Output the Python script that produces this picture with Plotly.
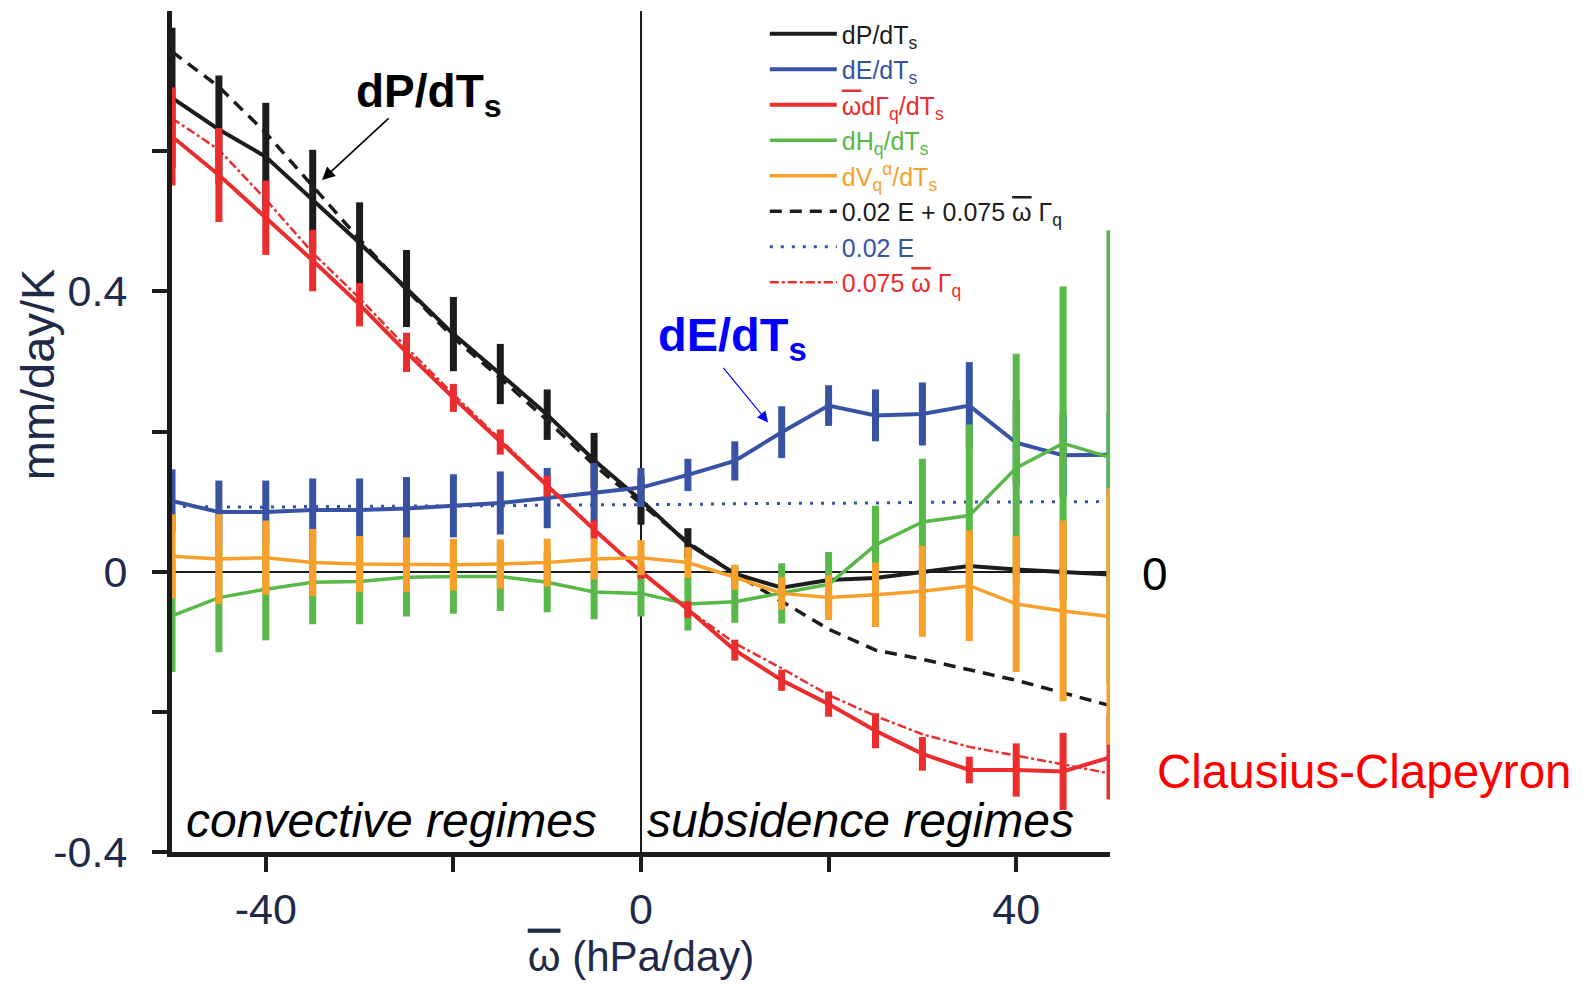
import plotly.graph_objects as go

# omega bins (hPa/day)
omega = [-50, -45, -40, -35, -30, -25, -20, -15, -10, -5, 0,
         5, 10, 15, 20, 25, 30, 35, 40, 45, 50]

# sensitivities (mm/day/K) and their error bars
dP = [0.676, 0.631, 0.592, 0.530, 0.469, 0.404, 0.339, 0.282, 0.224, 0.159, 0.102,
      0.040, -0.003, -0.023, -0.012, -0.009, -0.001, 0.008, 0.003, 0.0, -0.004]
dP_err = [0.10, 0.077, 0.077, 0.072, 0.058, 0.055, 0.053, 0.043, 0.036, 0.039, 0.035,
          0.022, 0.01, 0.006, 0.006, 0.006, 0.006, 0.006, 0.006, 0.006, 0.006]

dE = [0.101, 0.085, 0.085, 0.088, 0.088, 0.090, 0.094, 0.098, 0.105, 0.113, 0.120,
      0.138, 0.158, 0.199, 0.237, 0.223, 0.225, 0.237, 0.184, 0.166, 0.167]
dE_err = [0.045, 0.045, 0.045, 0.045, 0.045, 0.045, 0.045, 0.045, 0.043, 0.042, 0.028,
          0.023, 0.028, 0.037, 0.029, 0.037, 0.045, 0.062, 0.06, 0.06, 0.06]

dGam = [0.621, 0.566, 0.505, 0.444, 0.381, 0.313, 0.248, 0.185, 0.122, 0.060, 0.0,
        -0.054, -0.112, -0.155, -0.189, -0.227, -0.260, -0.283, -0.283, -0.285, -0.265]
dGam_err = [0.07, 0.067, 0.053, 0.044, 0.031, 0.028, 0.02, 0.018, 0.015, 0.013, 0.01,
            0.012, 0.015, 0.015, 0.018, 0.025, 0.024, 0.019, 0.038, 0.055, 0.06]

dH = [-0.063, -0.037, -0.025, -0.015, -0.014, -0.008, -0.007, -0.007, -0.015, -0.029, -0.031,
      -0.046, -0.043, -0.031, -0.018, 0.038, 0.071, 0.080, 0.148, 0.183, 0.163]
dH_err = [0.08, 0.078, 0.073, 0.06, 0.061, 0.056, 0.053, 0.049, 0.043, 0.039, 0.033,
          0.038, 0.03, 0.043, 0.046, 0.056, 0.09, 0.13, 0.163, 0.224, 0.324]

dV = [0.022, 0.018, 0.020, 0.013, 0.011, 0.010, 0.010, 0.011, 0.013, 0.018, 0.020,
      0.013, -0.008, -0.031, -0.037, -0.033, -0.028, -0.020, -0.046, -0.056, -0.064]
dV_err = [0.06, 0.064, 0.053, 0.048, 0.040, 0.039, 0.037, 0.035, 0.034, 0.029, 0.025,
          0.022, 0.018, 0.023, 0.032, 0.046, 0.065, 0.079, 0.097, 0.129, 0.183]

# scaling estimates
fit_total = [0.742, 0.692, 0.626, 0.550, 0.474, 0.402, 0.334, 0.276, 0.216, 0.152, 0.097,
             0.042, -0.003, -0.043, -0.082, -0.112, -0.125, -0.140, -0.155, -0.173, -0.191]
fit_E = [0.093, 0.092, 0.092, 0.093, 0.093, 0.093, 0.094, 0.094, 0.095, 0.095, 0.096,
         0.096, 0.097, 0.097, 0.098, 0.098, 0.099, 0.099, 0.100, 0.100, 0.100]
fit_Gam = [0.647, 0.602, 0.531, 0.455, 0.390, 0.320, 0.253, 0.188, 0.124, 0.061, 0.0,
           -0.054, -0.102, -0.138, -0.176, -0.206, -0.232, -0.250, -0.262, -0.275, -0.288]

BLACK = '#1c1c1c'
BLUE = '#3852a4'
RED = '#ec2d2d'
GREEN = '#58b848'
ORANGE = '#f7a12c'
NAVY = '#1f2a48'

OM = '<span style="text-decoration:overline">ω</span>'


def label(txt, color):
    return f'<span style="color:{color}">{txt}</span>'


fig = go.Figure()

# dashed / dotted estimates first (underneath)
fig.add_trace(go.Scatter(x=omega, y=fit_total, mode='lines', legendrank=6,
                         line=dict(color=BLACK, width=3.5, dash='12px,8px'),
                         name=label(f'0.02 E + 0.075 {OM} Γ<sub>q</sub>', BLACK)))
fig.add_trace(go.Scatter(x=omega, y=fit_E, mode='lines', legendrank=7,
                         line=dict(color=BLUE, width=3, dash='3px,8px'),
                         name=label('0.02 E', BLUE)))
fig.add_trace(go.Scatter(x=omega, y=fit_Gam, mode='lines', legendrank=8,
                         line=dict(color=RED, width=2.5, dash='dashdot'),
                         name=label(f'0.075 {OM} Γ<sub>q</sub>', RED)))


def add_series(y, err, color, name, rank, width=4):
    fig.add_trace(go.Scatter(
        x=omega, y=y, mode='lines', legendrank=rank,
        line=dict(color=color, width=width),
        error_y=dict(type='data', array=err, color=color, thickness=7, width=0),
        name=label(name, color),
    ))


add_series(dP, dP_err, BLACK, 'dP/dT<sub>s</sub>', 1)
add_series(dE, dE_err, BLUE, 'dE/dT<sub>s</sub>', 2)
add_series(dH, dH_err, GREEN, 'dH<sub>q</sub>/dT<sub>s</sub>', 4, 3.5)
add_series(dGam, dGam_err, RED, f'{OM}dΓ<sub>q</sub>/dT<sub>s</sub>', 3)
add_series(dV, dV_err, ORANGE, 'dV<sub>q</sub><sup>α</sup>/dT<sub>s</sub>', 5, 3.5)

annotations = [
    # in-plot labels
    dict(x=-30.6, y=0.681, text='<b>dP/dT<sub>s</sub></b>', showarrow=False,
         xanchor='left', yanchor='middle', font=dict(size=46, color='black')),
    dict(x=-34.0, y=0.559, ax=68, ay=-63, text='', showarrow=True,
         arrowhead=2, arrowsize=1.6, arrowwidth=1.6, arrowcolor='black'),
    dict(x=1.6, y=0.333, text='<b>dE/dT<sub>s</sub></b>', showarrow=False,
         xanchor='left', yanchor='middle', font=dict(size=47, color='#0000ff')),
    dict(x=13.55, y=0.213, ax=-46, ay=-56, text='', showarrow=True,
         arrowhead=2, arrowsize=1.8, arrowwidth=1.2, arrowcolor='#0000ff'),
    dict(x=1.048, y=-0.004, xref='paper', yref='y', text='0', showarrow=False,
         xanchor='center', yanchor='middle', font=dict(size=46, color='black')),
    dict(x=1.0475, y=-0.285, xref='paper', yref='y', text='Clausius-Clapeyron',
         showarrow=False, xanchor='left', yanchor='middle',
         font=dict(size=47.5, color='#ff0000')),
    dict(x=-48.7, y=-0.355, text='<i>convective regimes</i>', showarrow=False,
         xanchor='left', yanchor='middle', font=dict(size=48, color='black')),
    dict(x=0.4, y=-0.355, text='<i>subsidence regimes</i>', showarrow=False,
         xanchor='left', yanchor='middle', font=dict(size=48, color='black')),
    # y-axis title
    dict(x=-0.144, y=0.568, xref='paper', yref='paper', text='mm/day/K',
         textangle=-90, showarrow=False, xanchor='center', yanchor='middle',
         font=dict(size=47, color=NAVY)),
]

# page body adds an 8px margin, so the figure is 8px smaller than the window
fig.update_layout(
    width=1580, height=979,
    margin=dict(l=164, r=478, t=3, b=135),
    plot_bgcolor='white', paper_bgcolor='white',
    font=dict(family='Liberation Sans, Arial, sans-serif', color=NAVY),
    annotations=annotations,
    legend=dict(x=0.632, y=1.0, xanchor='left', yanchor='top',
                bgcolor='rgba(0,0,0,0)', font=dict(size=25),
                tracegroupgap=0, itemwidth=67),
)

fig.update_xaxes(
    range=[-50, 50], showgrid=False,
    zeroline=True, zerolinecolor=BLACK, zerolinewidth=1.5,
    showline=True, linecolor=BLACK, linewidth=5,
    ticks='outside', ticklen=15, tickwidth=4, tickcolor=BLACK,
    tickvals=[-40, -20, 0, 20, 40], ticktext=['-40', '', '0', '', '40'],
    tickfont=dict(size=43, color=NAVY),
    title=dict(text=f'{OM} (hPa/day)', font=dict(size=42, color=NAVY), standoff=8),
)
fig.update_yaxes(
    range=[-0.4, 0.8], showgrid=False,
    zeroline=True, zerolinecolor=BLACK, zerolinewidth=1.5,
    showline=True, linecolor=BLACK, linewidth=5,
    ticks='outside', ticklen=15, tickwidth=4, tickcolor=BLACK,
    tickvals=[-0.4, -0.2, 0, 0.2, 0.4, 0.6], ticktext=['-0.4', '', '0', '', '0.4', ''],
    tickfont=dict(size=43, color=NAVY), ticklabelstandoff=16,
)

fig.write_html("out.html")
